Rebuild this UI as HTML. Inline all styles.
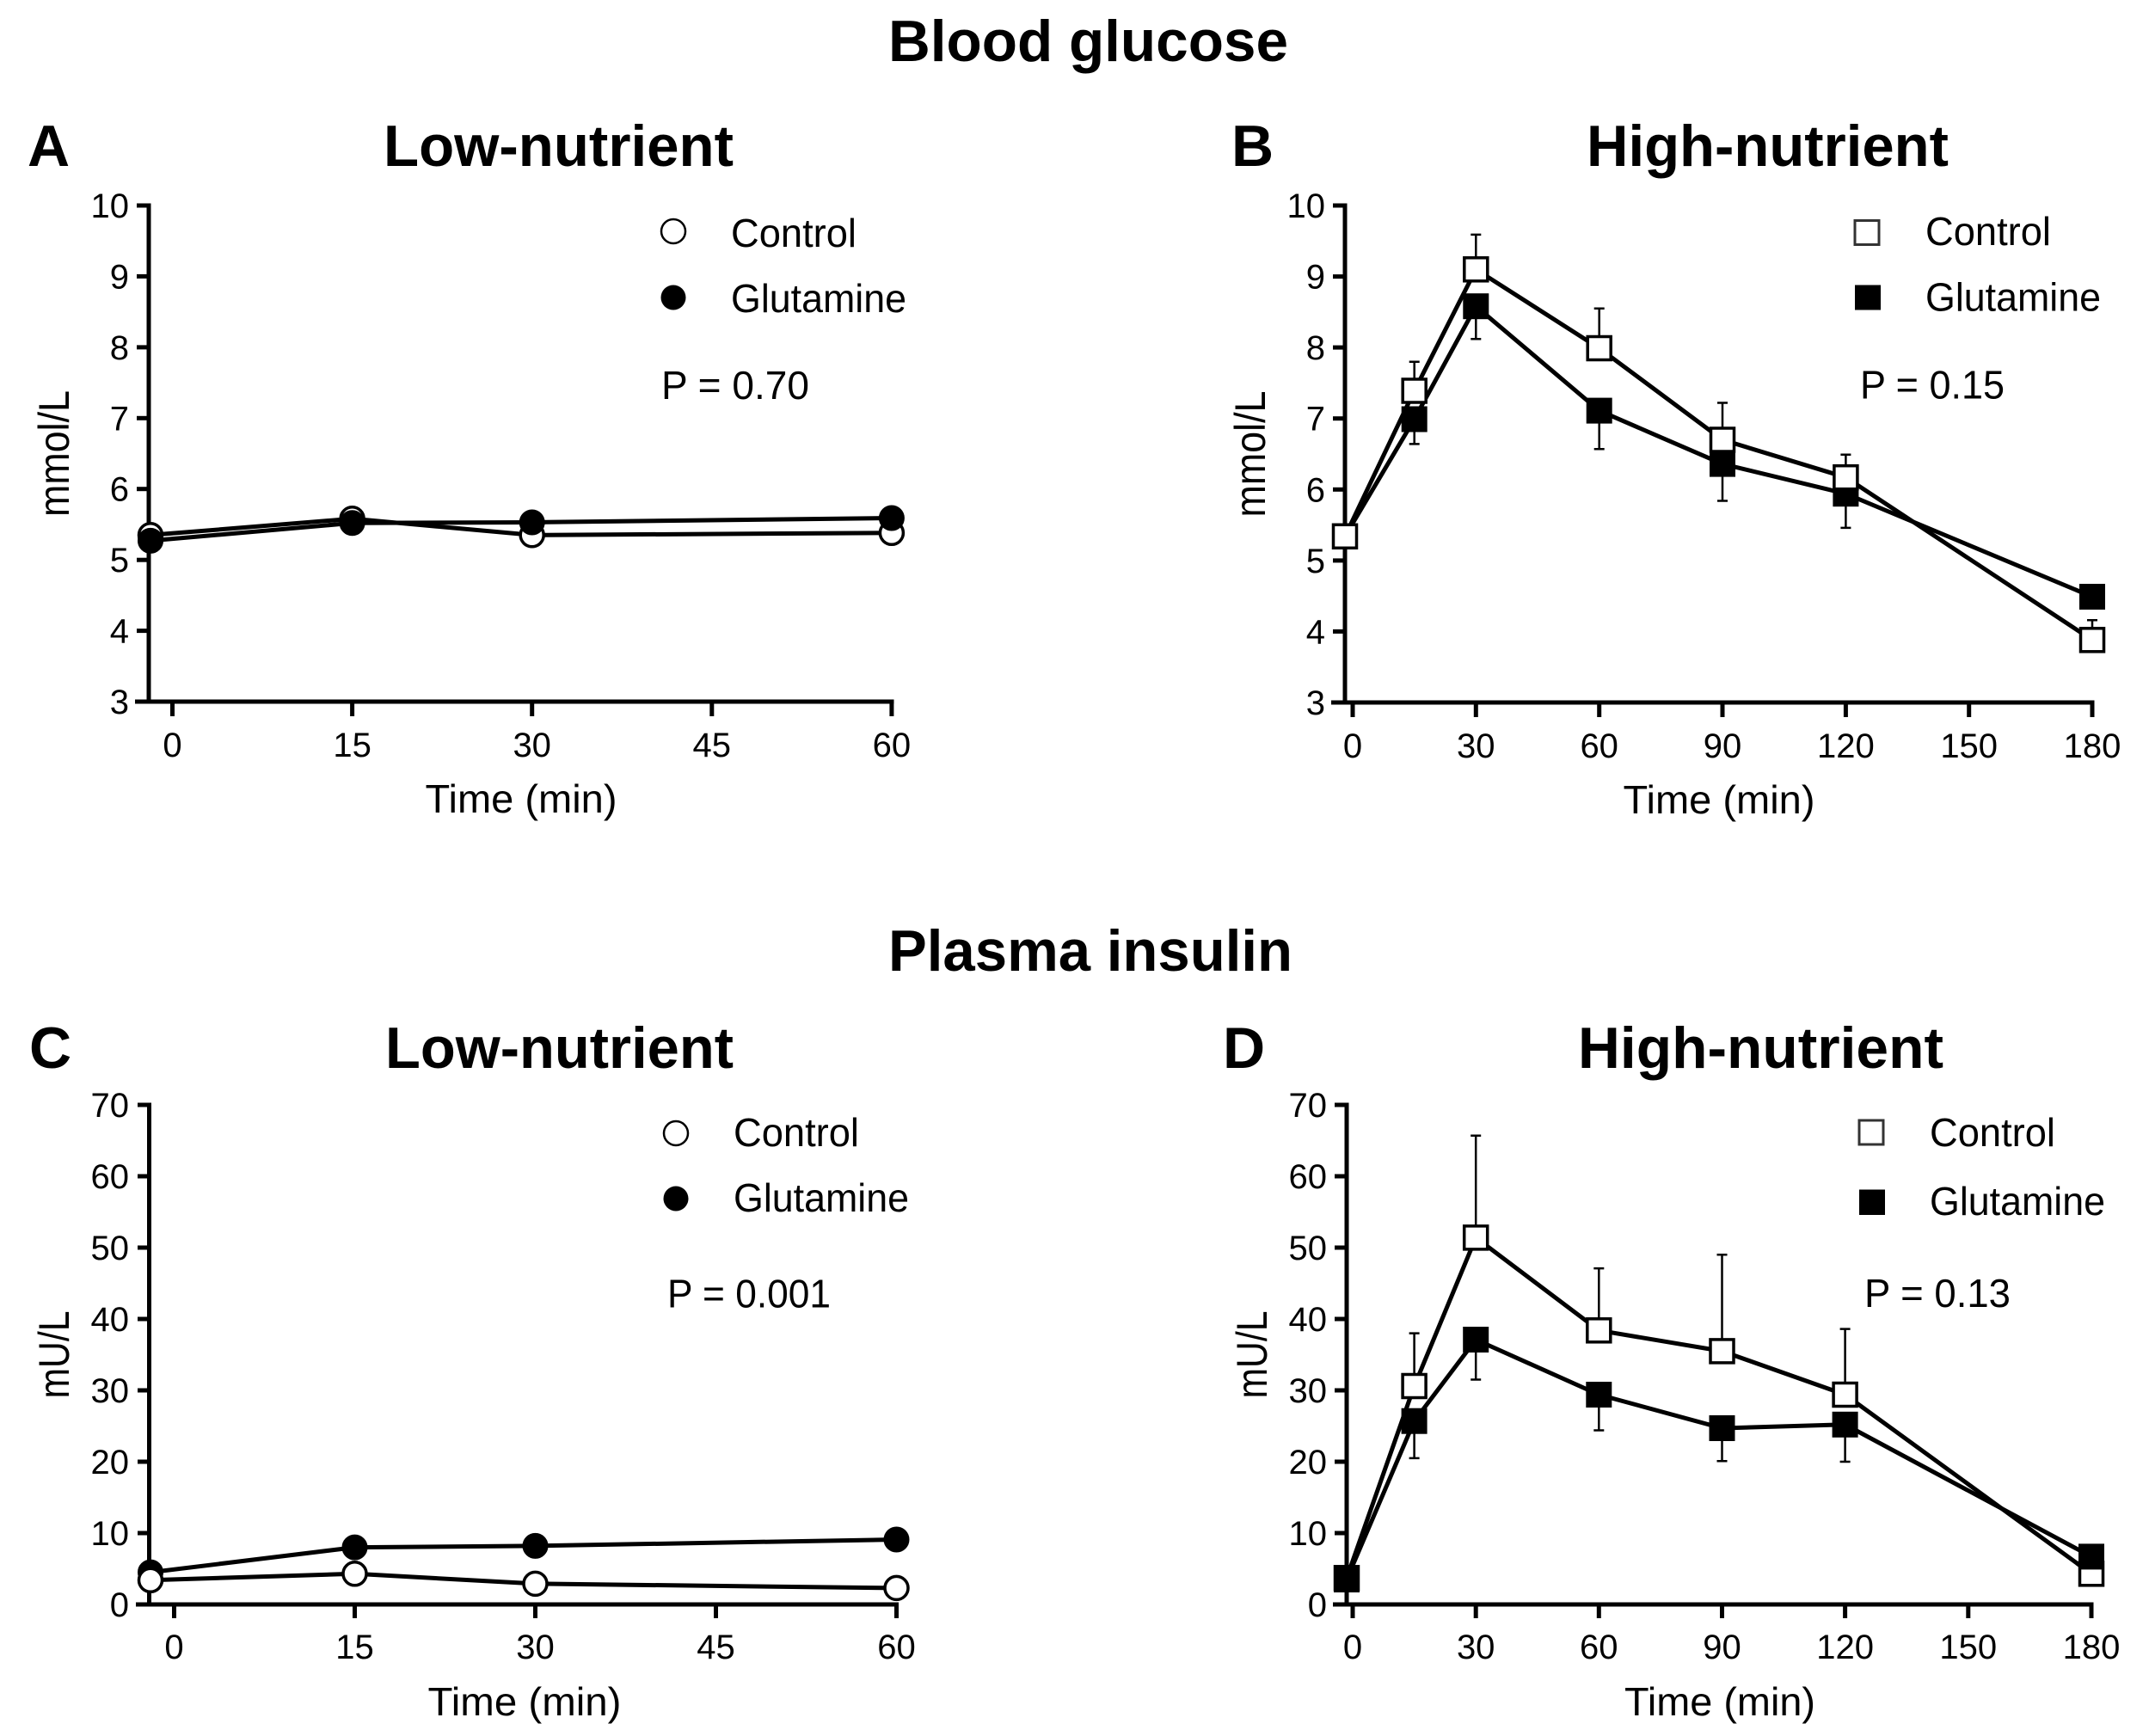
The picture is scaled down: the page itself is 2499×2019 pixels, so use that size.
<!DOCTYPE html>
<html>
<head>
<meta charset="utf-8">
<style>
html,body{margin:0;padding:0;background:#fff;}
svg{display:block;}
text{font-family:"Liberation Sans",Arial,sans-serif;fill:#000;}
.t{font-weight:bold;font-size:68px;}
.tk{font-size:40px;}
.lg{font-size:46px;}
.ax{font-size:46px;}
.yl{font-size:50px;}
</style>
</head>
<body>
<svg width="2499" height="2019" viewBox="0 0 2499 2019" xmlns="http://www.w3.org/2000/svg">
<rect width="2499" height="2019" fill="#fff"/>

<!-- Titles -->
<text class="t" x="1033" y="71" textLength="465" lengthAdjust="spacingAndGlyphs">Blood glucose</text>
<text class="t" x="1033" y="1129" textLength="470" lengthAdjust="spacingAndGlyphs">Plasma insulin</text>
<text class="t" x="32" y="193">A</text>
<text class="t" x="446" y="193" textLength="407" lengthAdjust="spacingAndGlyphs">Low-nutrient</text>
<text class="t" x="1432" y="193">B</text>
<text class="t" x="1845" y="193" textLength="421" lengthAdjust="spacingAndGlyphs">High-nutrient</text>
<text class="t" x="34" y="1242">C</text>
<text class="t" x="448" y="1242" textLength="405" lengthAdjust="spacingAndGlyphs">Low-nutrient</text>
<text class="t" x="1422" y="1242">D</text>
<text class="t" x="1835" y="1242" textLength="425" lengthAdjust="spacingAndGlyphs">High-nutrient</text>

<!-- ================= PANEL A ================= -->
<g stroke="#000" stroke-width="5" fill="none">
  <line x1="173" y1="236.5" x2="173" y2="818.5"/>
  <line x1="157" y1="816" x2="1039.5" y2="816"/>
  <line x1="159" y1="239" x2="173" y2="239"/>
  <line x1="159" y1="321.4" x2="173" y2="321.4"/>
  <line x1="159" y1="403.9" x2="173" y2="403.9"/>
  <line x1="159" y1="486.3" x2="173" y2="486.3"/>
  <line x1="159" y1="568.7" x2="173" y2="568.7"/>
  <line x1="159" y1="651.2" x2="173" y2="651.2"/>
  <line x1="159" y1="733.6" x2="173" y2="733.6"/>
  <line x1="200.5" y1="816" x2="200.5" y2="833"/>
  <line x1="409.6" y1="816" x2="409.6" y2="833"/>
  <line x1="618.7" y1="816" x2="618.7" y2="833"/>
  <line x1="827.8" y1="816" x2="827.8" y2="833"/>
  <line x1="1036.9" y1="816" x2="1036.9" y2="833"/>
</g>
<g class="tk" text-anchor="end">
  <text class="tk" x="150" y="253">10</text>
  <text class="tk" x="150" y="335.4">9</text>
  <text class="tk" x="150" y="417.9">8</text>
  <text class="tk" x="150" y="500.3">7</text>
  <text class="tk" x="150" y="582.7">6</text>
  <text class="tk" x="150" y="665.2">5</text>
  <text class="tk" x="150" y="747.6">4</text>
  <text class="tk" x="150" y="830">3</text>
</g>
<g text-anchor="middle">
  <text class="tk" x="200.5" y="880">0</text>
  <text class="tk" x="409.6" y="880">15</text>
  <text class="tk" x="618.7" y="880">30</text>
  <text class="tk" x="827.8" y="880">45</text>
  <text class="tk" x="1036.9" y="880">60</text>
  <text class="ax" x="606" y="945" textLength="223" lengthAdjust="spacingAndGlyphs">Time (min)</text>
</g>
<text class="yl" text-anchor="middle" transform="translate(80,527.5) rotate(-90)" textLength="147" lengthAdjust="spacingAndGlyphs">mmol/L</text>
<!-- data A -->
<polyline points="175,622.3 409.6,603.3 618.7,622.3 1036.9,619.8" fill="none" stroke="#000" stroke-width="5" stroke-linejoin="round"/>
<g fill="#fff" stroke="#000" stroke-width="3.5">
  <circle cx="175" cy="622.3" r="13.5"/>
  <circle cx="409.6" cy="603.3" r="13.5"/>
  <circle cx="618.7" cy="622.3" r="13.5"/>
  <circle cx="1036.9" cy="619.8" r="13.5"/>
</g>
<polyline points="175,628.9 409.6,608.3 618.7,607.5 1036.9,602.5" fill="none" stroke="#000" stroke-width="5" stroke-linejoin="round"/>
<g fill="#000" stroke="#000" stroke-width="3">
  <circle cx="175" cy="628.9" r="13.5"/>
  <circle cx="409.6" cy="608.3" r="13.5"/>
  <circle cx="618.7" cy="607.5" r="13.5"/>
  <circle cx="1036.9" cy="602.5" r="13.5"/>
</g>
<!-- legend A -->
<circle cx="783" cy="269" r="14" fill="#fff" stroke="#000" stroke-width="2.5"/>
<circle cx="783" cy="346" r="14.5" fill="#000"/>
<text class="lg" x="850" y="287" textLength="146" lengthAdjust="spacingAndGlyphs">Control</text>
<text class="lg" x="850" y="363" textLength="204" lengthAdjust="spacingAndGlyphs">Glutamine</text>
<text class="lg" x="769" y="464" textLength="172" lengthAdjust="spacingAndGlyphs">P = 0.70</text>

<!-- ================= PANEL B ================= -->
<g stroke="#000" stroke-width="5" fill="none">
  <line x1="1564" y1="236.5" x2="1564" y2="819.5"/>
  <line x1="1548" y1="817" x2="2435.5" y2="817"/>
  <line x1="1550" y1="239" x2="1564" y2="239"/>
  <line x1="1550" y1="321.6" x2="1564" y2="321.6"/>
  <line x1="1550" y1="404.1" x2="1564" y2="404.1"/>
  <line x1="1550" y1="486.7" x2="1564" y2="486.7"/>
  <line x1="1550" y1="569.3" x2="1564" y2="569.3"/>
  <line x1="1550" y1="651.9" x2="1564" y2="651.9"/>
  <line x1="1550" y1="734.4" x2="1564" y2="734.4"/>
  <line x1="1573" y1="817" x2="1573" y2="834"/>
  <line x1="1716.3" y1="817" x2="1716.3" y2="834"/>
  <line x1="1859.7" y1="817" x2="1859.7" y2="834"/>
  <line x1="2003" y1="817" x2="2003" y2="834"/>
  <line x1="2146.4" y1="817" x2="2146.4" y2="834"/>
  <line x1="2289.7" y1="817" x2="2289.7" y2="834"/>
  <line x1="2433" y1="817" x2="2433" y2="834"/>
</g>
<g text-anchor="end">
  <text class="tk" x="1541" y="253">10</text>
  <text class="tk" x="1541" y="335.6">9</text>
  <text class="tk" x="1541" y="418.1">8</text>
  <text class="tk" x="1541" y="500.7">7</text>
  <text class="tk" x="1541" y="583.3">6</text>
  <text class="tk" x="1541" y="665.9">5</text>
  <text class="tk" x="1541" y="748.4">4</text>
  <text class="tk" x="1541" y="831">3</text>
</g>
<g text-anchor="middle">
  <text class="tk" x="1573" y="881">0</text>
  <text class="tk" x="1716.3" y="881">30</text>
  <text class="tk" x="1859.7" y="881">60</text>
  <text class="tk" x="2003" y="881">90</text>
  <text class="tk" x="2146.4" y="881">120</text>
  <text class="tk" x="2289.7" y="881">150</text>
  <text class="tk" x="2433" y="881">180</text>
  <text class="ax" x="1999" y="946" textLength="223" lengthAdjust="spacingAndGlyphs">Time (min)</text>
</g>
<text class="yl" text-anchor="middle" transform="translate(1471,528) rotate(-90)" textLength="147" lengthAdjust="spacingAndGlyphs">mmol/L</text>
<!-- B error bars -->
<g stroke="#000" stroke-width="2.5" fill="none">
  <path d="M1644.7,487.5V516.4M1638.7,516.4H1650.7"/>
  <path d="M1716.3,356.2V394.2M1710.3,394.2H1722.3"/>
  <path d="M1859.7,477.6V522.2M1853.7,522.2H1865.7"/>
  <path d="M2003,539.6V582.5M1997,582.5H2009"/>
  <path d="M2146.4,574.2V613.9M2140.4,613.9H2152.4"/>
  <path d="M1644.7,454.5V420.7M1638.7,420.7H1650.7"/>
  <path d="M1716.3,313.3V272.9M1710.3,272.9H1722.3"/>
  <path d="M1859.7,405V358.7M1853.7,358.7H1865.7"/>
  <path d="M2003,511.5V468.5M1997,468.5H2009"/>
  <path d="M2146.4,555.2V528.8M2140.4,528.8H2152.4"/>
  <path d="M2433,744.3V721.2M2427,721.2H2439"/>
</g>
<!-- B glutamine -->
<polyline points="1564,623.8 1644.7,487.5 1716.3,356.2 1859.7,477.6 2003,539.6 2146.4,574.2 2433,694" fill="none" stroke="#000" stroke-width="5" stroke-linejoin="round"/>
<g fill="#000" stroke="#000" stroke-width="3">
  <rect x="1550.5" y="610.3" width="27" height="27"/>
  <rect x="1631.2" y="474" width="27" height="27"/>
  <rect x="1702.8" y="342.7" width="27" height="27"/>
  <rect x="1846.2" y="464.1" width="27" height="27"/>
  <rect x="1989.5" y="526.1" width="27" height="27"/>
  <rect x="2132.9" y="560.7" width="27" height="27"/>
  <rect x="2419.5" y="680.5" width="27" height="27"/>
</g>
<!-- B control -->
<polyline points="1564,623.8 1644.7,454.5 1716.3,313.3 1859.7,405 2003,511.5 2146.4,555.2 2433,744.3" fill="none" stroke="#000" stroke-width="5" stroke-linejoin="round"/>
<g fill="#fff" stroke="#000" stroke-width="3.5">
  <rect x="1550.5" y="610.3" width="27" height="27"/>
  <rect x="1631.2" y="441" width="27" height="27"/>
  <rect x="1702.8" y="299.8" width="27" height="27"/>
  <rect x="1846.2" y="391.5" width="27" height="27"/>
  <rect x="1989.5" y="498" width="27" height="27"/>
  <rect x="2132.9" y="541.7" width="27" height="27"/>
  <rect x="2419.5" y="730.8" width="27" height="27"/>
</g>
<!-- legend B -->
<rect x="2157" y="256.5" width="28" height="28" fill="#fff" stroke="#333" stroke-width="3"/>
<rect x="2157" y="331.5" width="30" height="29" fill="#000"/>
<text class="lg" x="2239" y="285" textLength="146" lengthAdjust="spacingAndGlyphs">Control</text>
<text class="lg" x="2239" y="361.5" textLength="204" lengthAdjust="spacingAndGlyphs">Glutamine</text>
<text class="lg" x="2163" y="463.5" textLength="168" lengthAdjust="spacingAndGlyphs">P = 0.15</text>

<!-- ================= PANEL C ================= -->
<g stroke="#000" stroke-width="5" fill="none">
  <line x1="173.5" y1="1282.5" x2="173.5" y2="1868.5"/>
  <line x1="158" y1="1866" x2="1045" y2="1866"/>
  <line x1="160" y1="1285" x2="173.5" y2="1285"/>
  <line x1="160" y1="1368" x2="173.5" y2="1368"/>
  <line x1="160" y1="1451" x2="173.5" y2="1451"/>
  <line x1="160" y1="1534" x2="173.5" y2="1534"/>
  <line x1="160" y1="1617" x2="173.5" y2="1617"/>
  <line x1="160" y1="1700" x2="173.5" y2="1700"/>
  <line x1="160" y1="1783" x2="173.5" y2="1783"/>
  <line x1="202.5" y1="1866" x2="202.5" y2="1882"/>
  <line x1="412.5" y1="1866" x2="412.5" y2="1882"/>
  <line x1="622.5" y1="1866" x2="622.5" y2="1882"/>
  <line x1="832.5" y1="1866" x2="832.5" y2="1882"/>
  <line x1="1042.5" y1="1866" x2="1042.5" y2="1882"/>
</g>
<g text-anchor="end">
  <text class="tk" x="150" y="1299">70</text>
  <text class="tk" x="150" y="1382">60</text>
  <text class="tk" x="150" y="1465">50</text>
  <text class="tk" x="150" y="1548">40</text>
  <text class="tk" x="150" y="1631">30</text>
  <text class="tk" x="150" y="1714">20</text>
  <text class="tk" x="150" y="1797">10</text>
  <text class="tk" x="150" y="1880">0</text>
</g>
<g text-anchor="middle">
  <text class="tk" x="202.5" y="1929">0</text>
  <text class="tk" x="412.5" y="1929">15</text>
  <text class="tk" x="622.5" y="1929">30</text>
  <text class="tk" x="832.5" y="1929">45</text>
  <text class="tk" x="1042.5" y="1929">60</text>
  <text class="ax" x="610" y="1995" textLength="225" lengthAdjust="spacingAndGlyphs">Time (min)</text>
</g>
<text class="yl" text-anchor="middle" transform="translate(80,1575.5) rotate(-90)" textLength="102" lengthAdjust="spacingAndGlyphs">mU/L</text>
<!-- C glutamine -->
<polyline points="175,1828.6 412.5,1799.6 622.5,1797.9 1042.5,1790.5" fill="none" stroke="#000" stroke-width="5" stroke-linejoin="round"/>
<g fill="#000" stroke="#000" stroke-width="3">
  <circle cx="175" cy="1828.6" r="13.5"/>
  <circle cx="412.5" cy="1799.6" r="13.5"/>
  <circle cx="622.5" cy="1797.9" r="13.5"/>
  <circle cx="1042.5" cy="1790.5" r="13.5"/>
</g>
<!-- C control -->
<polyline points="175,1837.8 412.5,1830.3 622.5,1841.9 1042.5,1846.9" fill="none" stroke="#000" stroke-width="5" stroke-linejoin="round"/>
<g fill="#fff" stroke="#000" stroke-width="3.5">
  <circle cx="175" cy="1837.8" r="13.5"/>
  <circle cx="412.5" cy="1830.3" r="13.5"/>
  <circle cx="622.5" cy="1841.9" r="13.5"/>
  <circle cx="1042.5" cy="1846.9" r="13.5"/>
</g>
<!-- legend C -->
<circle cx="786" cy="1318" r="14" fill="#fff" stroke="#000" stroke-width="2.5"/>
<circle cx="786" cy="1394" r="14.5" fill="#000"/>
<text class="lg" x="853" y="1333" textLength="146" lengthAdjust="spacingAndGlyphs">Control</text>
<text class="lg" x="853" y="1409" textLength="204" lengthAdjust="spacingAndGlyphs">Glutamine</text>
<text class="lg" x="776" y="1520.5" textLength="190" lengthAdjust="spacingAndGlyphs">P = 0.001</text>

<!-- ================= PANEL D ================= -->
<g stroke="#000" stroke-width="5" fill="none">
  <line x1="1566" y1="1282.5" x2="1566" y2="1868.5"/>
  <line x1="1550" y1="1866" x2="2434.5" y2="1866"/>
  <line x1="1552" y1="1285" x2="1566" y2="1285"/>
  <line x1="1552" y1="1368" x2="1566" y2="1368"/>
  <line x1="1552" y1="1451" x2="1566" y2="1451"/>
  <line x1="1552" y1="1534" x2="1566" y2="1534"/>
  <line x1="1552" y1="1617" x2="1566" y2="1617"/>
  <line x1="1552" y1="1700" x2="1566" y2="1700"/>
  <line x1="1552" y1="1783" x2="1566" y2="1783"/>
  <line x1="1573" y1="1866" x2="1573" y2="1882"/>
  <line x1="1716.2" y1="1866" x2="1716.2" y2="1882"/>
  <line x1="1859.3" y1="1866" x2="1859.3" y2="1882"/>
  <line x1="2002.5" y1="1866" x2="2002.5" y2="1882"/>
  <line x1="2145.6" y1="1866" x2="2145.6" y2="1882"/>
  <line x1="2288.8" y1="1866" x2="2288.8" y2="1882"/>
  <line x1="2432" y1="1866" x2="2432" y2="1882"/>
</g>
<g text-anchor="end">
  <text class="tk" x="1543" y="1299">70</text>
  <text class="tk" x="1543" y="1382">60</text>
  <text class="tk" x="1543" y="1465">50</text>
  <text class="tk" x="1543" y="1548">40</text>
  <text class="tk" x="1543" y="1631">30</text>
  <text class="tk" x="1543" y="1714">20</text>
  <text class="tk" x="1543" y="1797">10</text>
  <text class="tk" x="1543" y="1880">0</text>
</g>
<g text-anchor="middle">
  <text class="tk" x="1573" y="1929">0</text>
  <text class="tk" x="1716.2" y="1929">30</text>
  <text class="tk" x="1859.3" y="1929">60</text>
  <text class="tk" x="2002.5" y="1929">90</text>
  <text class="tk" x="2145.6" y="1929">120</text>
  <text class="tk" x="2288.8" y="1929">150</text>
  <text class="tk" x="2432" y="1929">180</text>
  <text class="ax" x="2000" y="1995" textLength="222" lengthAdjust="spacingAndGlyphs">Time (min)</text>
</g>
<text class="yl" text-anchor="middle" transform="translate(1473,1575.5) rotate(-90)" textLength="102" lengthAdjust="spacingAndGlyphs">mU/L</text>
<!-- D error bars -->
<g stroke="#000" stroke-width="2.5" fill="none">
  <path d="M1644.6,1612V1550.6M1638.6,1550.6H1650.6"/>
  <path d="M1716.2,1439.4V1320.7M1710.2,1320.7H1722.2"/>
  <path d="M1859.3,1547.3V1475.1M1853.3,1475.1H1865.3"/>
  <path d="M2002.5,1571.4V1459.3M1996.5,1459.3H2008.5"/>
  <path d="M2145.6,1622V1545.6M2139.6,1545.6H2151.6"/>
  <path d="M1644.6,1652.7V1695.9M1638.6,1695.9H1650.6"/>
  <path d="M1716.2,1558V1604.5M1710.2,1604.5H1722.2"/>
  <path d="M1859.3,1622V1663.5M1853.3,1663.5H1865.3"/>
  <path d="M2002.5,1661V1699.2M1996.5,1699.2H2008.5"/>
  <path d="M2145.6,1656.8V1700M2139.6,1700H2151.6"/>
</g>
<!-- D control -->
<polyline points="1566,1835.3 1644.6,1612 1716.2,1439.4 1859.3,1547.3 2002.5,1571.4 2145.6,1622 2432,1830.3" fill="none" stroke="#000" stroke-width="5" stroke-linejoin="round"/>
<g fill="#fff" stroke="#000" stroke-width="3.5">
  <rect x="1552.5" y="1821.8" width="27" height="27"/>
  <rect x="1631.1" y="1598.5" width="27" height="27"/>
  <rect x="1702.7" y="1425.9" width="27" height="27"/>
  <rect x="1845.8" y="1533.8" width="27" height="27"/>
  <rect x="1989" y="1557.9" width="27" height="27"/>
  <rect x="2132.1" y="1608.5" width="27" height="27"/>
  <rect x="2418.5" y="1816.8" width="27" height="27"/>
</g>
<!-- D glutamine -->
<polyline points="1566,1837 1644.6,1652.7 1716.2,1558 1859.3,1622 2002.5,1661 2145.6,1656.8 2432,1810.4" fill="none" stroke="#000" stroke-width="5" stroke-linejoin="round"/>
<g fill="#000" stroke="#000" stroke-width="3">
  <rect x="1552.5" y="1823.5" width="27" height="27"/>
  <rect x="1631.1" y="1639.2" width="27" height="27"/>
  <rect x="1702.7" y="1544.5" width="27" height="27"/>
  <rect x="1845.8" y="1608.5" width="27" height="27"/>
  <rect x="1989" y="1647.5" width="27" height="27"/>
  <rect x="2132.1" y="1643.3" width="27" height="27"/>
  <rect x="2418.5" y="1796.9" width="27" height="27"/>
</g>
<!-- legend D -->
<rect x="2162" y="1303" width="28" height="28" fill="#fff" stroke="#333" stroke-width="3"/>
<rect x="2162" y="1383.5" width="30" height="29.5" fill="#000"/>
<text class="lg" x="2244" y="1333" textLength="146" lengthAdjust="spacingAndGlyphs">Control</text>
<text class="lg" x="2244" y="1413" textLength="204" lengthAdjust="spacingAndGlyphs">Glutamine</text>
<text class="lg" x="2168" y="1520" textLength="170" lengthAdjust="spacingAndGlyphs">P = 0.13</text>
</svg>
</body>
</html>
